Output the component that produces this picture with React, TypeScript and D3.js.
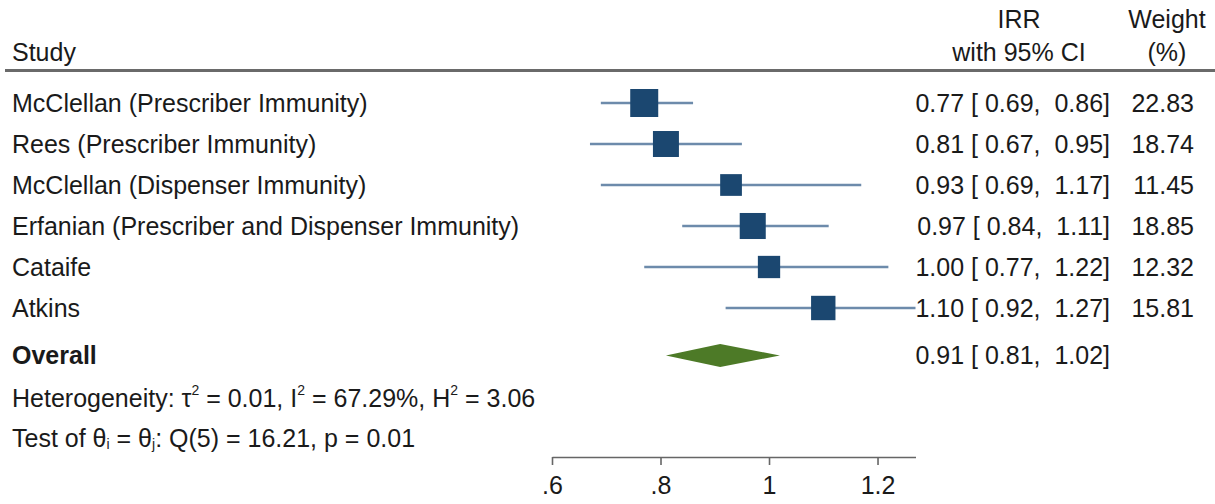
import React from "react";
import * as d3 from "d3";

const studies = [
  "McClellan (Prescriber Immunity)",
  "Rees (Prescriber Immunity)",
  "McClellan (Dispenser Immunity)",
  "Erfanian (Prescriber and Dispenser Immunity)",
  "Cataife",
  "Atkins",
];
const irr = [0.77, 0.81, 0.93, 0.97, 1.0, 1.1];
const lower = [0.69, 0.67, 0.69, 0.84, 0.77, 0.92];
const upper = [0.86, 0.95, 1.17, 1.11, 1.22, 1.27];
const weights = [22.83, 18.74, 11.45, 18.85, 12.32, 15.81];
const overall = { est: 0.91, lo: 0.81, hi: 1.02 };
const tickValues = [0.6, 0.8, 1, 1.2];

const W = 1215;
const H = 504;
const FONT = "'Liberation Sans', Arial, sans-serif";
const TXT = "#1a1a1a";
const FS = 25;

export default function App() {
  const x = d3.scaleLinear().domain([0.6, 1.27]).range([552, 915.5]);
  const y = d3
    .scalePoint<number>()
    .domain(d3.range(studies.length))
    .range([103, 308]);
  const size = d3.scaleSqrt().domain([0, 25]).range([6.5, 29]);
  const fmt = d3.format(".2f");
  const ciText = (e: number, l: number, u: number) =>
    `${fmt(e)} [ ${fmt(l)},  ${fmt(u)}]`;
  const tickFmt = (v: number) => (v === 1 ? "1" : fmt(v).replace(/0$/, "").replace(/^0/, ""));

  const axisRef = React.useRef<SVGGElement>(null);
  React.useEffect(() => {
    if (!axisRef.current) return;
    const g = d3.select(axisRef.current);
    g.call(
      d3
        .axisBottom(x)
        .tickValues(tickValues)
        .tickSizeOuter(0)
        .tickSizeInner(8)
        .tickPadding(11)
        .tickFormat((d) => tickFmt(d as number))
    );
    g.select(".domain").attr("stroke", "#666").attr("stroke-width", 1.6);
    g.selectAll(".tick line").attr("stroke", "#666").attr("stroke-width", 1.6);
    g.selectAll(".tick text")
      .attr("fill", TXT)
      .attr("font-size", FS)
      .attr("font-family", FONT);
    g.attr("font-family", FONT);
  }, []);

  const oy = 355.5;
  const diamond = [
    [x(overall.lo), oy],
    [x(overall.est), oy - 11.5],
    [x(overall.hi), oy],
    [x(overall.est), oy + 11.5],
  ];

  return (
    <svg
      width={W}
      height={H}
      style={{ position: "absolute", left: 0, top: 0, background: "#fff" }}
      fontFamily={FONT}
    >
      <rect width={W} height={H} fill="#fff" />
      {/* header */}
      <text x={12} y={61} fontSize={FS} fill={TXT}>Study</text>
      <text x={1019} y={28} fontSize={FS} fill={TXT} textAnchor="middle">IRR</text>
      <text x={1019} y={61} fontSize={FS} fill={TXT} textAnchor="middle">with 95% CI</text>
      <text x={1167} y={28} fontSize={FS} fill={TXT} textAnchor="middle">Weight</text>
      <text x={1167} y={61} fontSize={FS} fill={TXT} textAnchor="middle">(%)</text>
      <line x1={5} x2={W} y1={70.5} y2={70.5} stroke="#6a6a6a" strokeWidth={3} />

      {studies.map((s, i) => {
        const cy = y(i)!;
        const sz = size(weights[i]);
        return (
          <g key={s}>
            <text x={12} y={cy + 9} fontSize={FS} fill={TXT}>{s}</text>
            <line
              x1={x(lower[i])}
              x2={x(upper[i])}
              y1={cy}
              y2={cy}
              stroke="#6d8bab"
              strokeWidth={2.4}
            />
            <rect
              x={x(irr[i]) - sz / 2}
              y={cy - sz / 2}
              width={sz}
              height={sz}
              fill="#1b4770"
            />
            <text
              x={1110}
              y={cy + 9}
              fontSize={FS}
              fill={TXT}
              textAnchor="end"
              style={{ whiteSpace: "pre" }}
            >
              {ciText(irr[i], lower[i], upper[i])}
            </text>
            <text x={1194} y={cy + 9} fontSize={FS} fill={TXT} textAnchor="end">
              {fmt(weights[i])}
            </text>
          </g>
        );
      })}

      {/* overall */}
      <text x={12} y={oy + 8} fontSize={FS} fill={TXT} fontWeight="bold">Overall</text>
      <polygon points={diamond.map((p) => p.join(",")).join(" ")} fill="#4d7a27" />
      <text
        x={1110}
        y={oy + 8}
        fontSize={FS}
        fill={TXT}
        textAnchor="end"
        style={{ whiteSpace: "pre" }}
      >
        {ciText(overall.est, overall.lo, overall.hi)}
      </text>

      <text x={12} y={407} fontSize={FS} fill={TXT}>
        Heterogeneity: τ
        <tspan fontSize={14} dy={-12}>2</tspan>
        <tspan dy={12}> = 0.01, I</tspan>
        <tspan fontSize={14} dy={-12}>2</tspan>
        <tspan dy={12}> = 67.29%, H</tspan>
        <tspan fontSize={14} dy={-12}>2</tspan>
        <tspan dy={12}> = 3.06</tspan>
      </text>
      <text x={12} y={447} fontSize={FS} fill={TXT}>
        Test of θ
        <tspan fontSize={14} dy={2}>i</tspan>
        <tspan dy={-2}> = θ</tspan>
        <tspan fontSize={14} dy={2}>j</tspan>
        <tspan dy={-2}>: Q(5) = 16.21, p = 0.01</tspan>
      </text>

      <g ref={axisRef} transform="translate(0,457)" />
    </svg>
  );
}
